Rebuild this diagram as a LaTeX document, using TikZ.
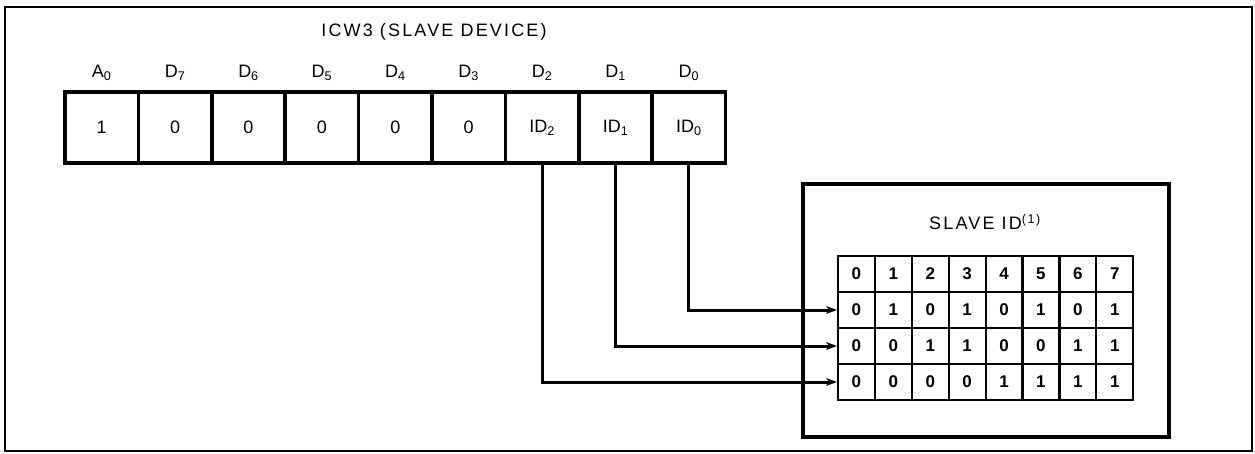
\documentclass[tikz,border=0pt]{standalone}
\usepackage{fontspec}
\setmainfont{Liberation Sans}
\newfontfamily\spacedfont[LetterSpace=12]{Liberation Sans}
\usepackage{tikz}
\usetikzlibrary{arrows.meta,positioning,calc}

\tikzset{
  regcell/.style={draw, line width=3.5pt, minimum width=73.4pt, minimum height=71pt,
    inner sep=0pt, font=\fontsize{18}{21}\selectfont},
  tabcell/.style={draw, line width=2.2pt, minimum width=36.9pt, minimum height=36pt,
    inner sep=0pt, font=\fontsize{17}{20}\selectfont\bfseries},
  bitlabel/.style={font=\fontsize{18}{21}\selectfont},
  link/.style={line width=3pt, -{Stealth[length=11pt,width=8pt]}}
}

\begin{document}
\begin{tikzpicture}[x=1pt,y=-1pt]
  \useasboundingbox (0,0) rectangle (1255,453);
  \draw[line width=2.5pt] (5,7) rectangle (1252,451);

  % ICW3 register
  \node[font=\fontsize{18}{21}\selectfont\spacedfont] (title) at (434,32) {ICW3 (SLAVE DEVICE)};
  \foreach \val/\bit [count=\i from 0] in {1/A\textsubscript{0}, 0/D\textsubscript{7},
      0/D\textsubscript{6}, 0/D\textsubscript{5}, 0/D\textsubscript{4}, 0/D\textsubscript{3},
      ID\textsubscript{2}/D\textsubscript{2}, ID\textsubscript{1}/D\textsubscript{1},
      ID\textsubscript{0}/D\textsubscript{0}} {
    \node[regcell] (r\i) at ({65+73.4*(\i+0.5)},127.5) {\val};
    \node[bitlabel] (b\i) at ({65+73.4*(\i+0.5)},73) {\bit};
  }

  % slave id table
  \node[draw, line width=3.5pt, minimum width=366pt, minimum height=253pt] (slave) at (986,310.5) {};
  \node[font=\fontsize{18}{21}\selectfont\spacedfont] (slavetitle) at (985,222) {SLAVE ID\textsuperscript{(1)}};
  \foreach \row [count=\r from 0] in {{0,1,2,3,4,5,6,7},{0,1,0,1,0,1,0,1},
      {0,0,1,1,0,0,1,1},{0,0,0,0,1,1,1,1}} {
    \foreach \v [count=\c from 0] in \row {
      \node[tabcell] (t-\r-\c) at ({838+36.9*(\c+0.5)},{256+36*(\r+0.5)}) {\v};
    }
  }

  % connectors
  \draw[link] (r8.south) |- (t-1-0.west);
  \draw[link] (r7.south) |- (t-2-0.west);
  \draw[link] (r6.south) |- (t-3-0.west);
\end{tikzpicture}
\end{document}
